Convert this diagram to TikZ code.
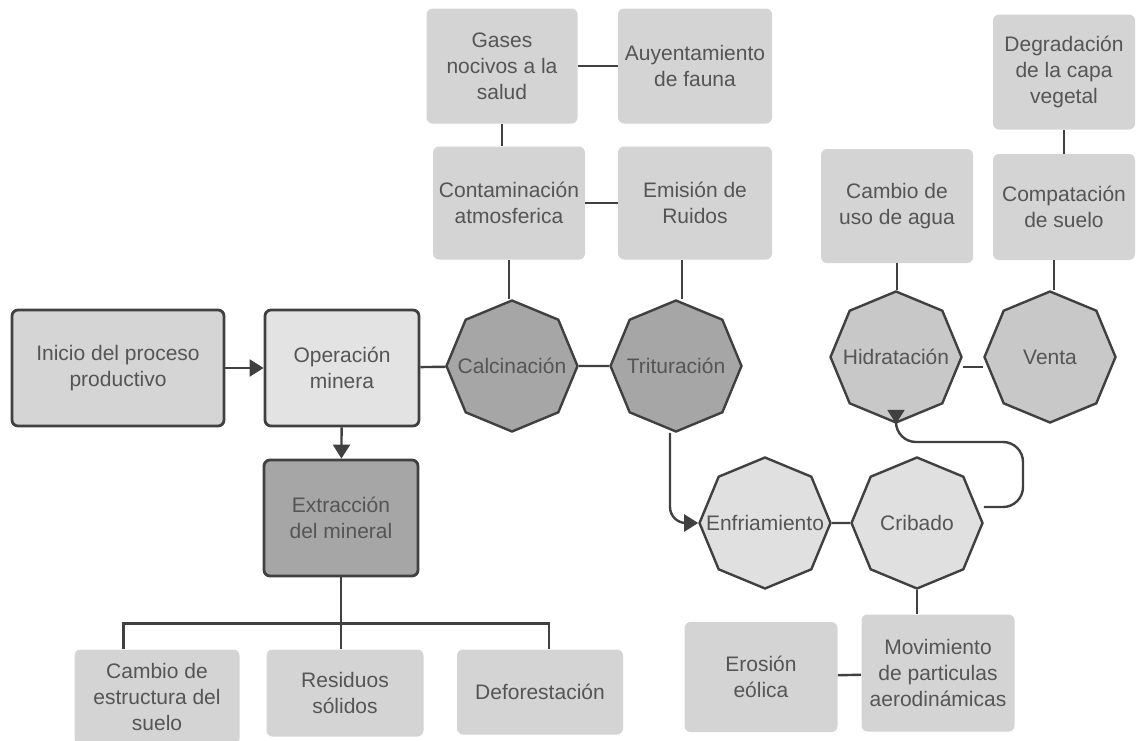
\documentclass[tikz,border=0pt]{standalone}
\usepackage{fontspec}
\setmainfont{Liberation Sans}
\usetikzlibrary{positioning, arrows.meta, shapes.geometric}

\definecolor{txtgray}{HTML}{555555}
\definecolor{edgegray}{HTML}{404040}
\definecolor{fxlight}{HTML}{E3E3E3}
\definecolor{fxmid}{HTML}{D5D5D5}
\definecolor{fxdark}{HTML}{A6A6A6}
\definecolor{fxoct}{HTML}{C8C8C8}
\definecolor{fxpale}{HTML}{E0E0E0}
\definecolor{fximpact}{HTML}{D4D4D4}

\begin{document}
\begin{tikzpicture}[
  x=0.5pt, y=-0.5pt,
  >={Triangle[length=7pt, width=8.5pt]},
  every node/.style={font=\fontsize{10.5}{13}\selectfont, text=txtgray},
  process/.style={
    draw=edgegray, line width=1.4pt, rounded corners=3pt,
    align=center, inner sep=2pt
  },
  impact/.style={
    fill=fximpact, rounded corners=3pt, align=center, inner sep=2pt
  },
  % negative inner xsep keeps the text from growing the octagon
  stage/.style={
    regular polygon, regular polygon sides=8, shape border rotate=22.5,
    draw=edgegray, line width=1.2pt, minimum size=65.5pt,
    inner xsep=-15pt, inner ysep=0pt
  },
  link/.style={edgegray, line width=1.2pt},
  arr/.style={->, edgegray, line width=1.2pt}
]
\useasboundingbox (0,0) rectangle (1136,740);

% Main process boxes
\node[process, fill=fxmid, minimum width=106pt, minimum height=58pt] (inicio) at (118,368)
  {Inicio del proceso\\productivo};
\node[process, fill=fxlight, minimum width=77pt, minimum height=58pt] (opera) at (342,368)
  {Operación\\minera};
\node[process, fill=fxdark, minimum width=77pt, minimum height=58pt] (extra) at (341,518)
  {Extracción\\del mineral};

% Process stages (octagons)
\node[stage, fill=fxdark] (calc) at (512,366) {Calcinación};
\node[stage, fill=fxdark] (trit) at (676,366) {Trituración};
\node[stage, fill=fxpale] (enfr) at (765,523) {Enfriamiento};
\node[stage, fill=fxpale] (crib) at (917,523) {Cribado};
\node[stage, fill=fxoct] (hidra) at (896,357) {Hidratación};
\node[stage, fill=fxoct] (venta) at (1050,357) {Venta};

% Impacts: top middle
\node[impact, minimum width=75.5pt, minimum height=57.5pt] (gases) at (502,66)
  {Gases\\nocivos a la\\salud};
\node[impact, minimum width=77pt, minimum height=57.5pt] (fauna) at (695,66)
  {Auyentamiento\\de fauna};
\node[impact, minimum width=76pt, minimum height=56.5pt] (contam) at (509,203)
  {Contaminación\\atmosferica};
\node[impact, minimum width=77pt, minimum height=56.5pt] (ruido) at (695,203)
  {Emisión de\\Ruidos};

% Impacts: top right
\node[impact, minimum width=76pt, minimum height=57pt] (agua) at (897,206)
  {Cambio de\\uso de agua};
\node[impact, minimum width=71pt, minimum height=53pt] (compac) at (1064,207)
  {Compatación\\de suelo};
\node[impact, minimum width=71pt, minimum height=57.5pt] (degrad) at (1064,72)
  {Degradación\\de la capa\\vegetal};

% Impacts: bottom
\node[impact, minimum width=82.5pt, minimum height=47.5pt] (suelo) at (157,697)
  {Cambio de\\estructura del\\suelo};
\node[impact, minimum width=78.5pt, minimum height=43.5pt] (resid) at (345,693)
  {Residuos\\sólidos};
\node[impact, minimum width=83pt, minimum height=42.5pt] (defor) at (540,692)
  {Deforestación};
\node[impact, minimum width=76.5pt, minimum height=55pt] (erosion) at (761,677)
  {Erosión\\eólica};
\node[impact, minimum width=76.5pt, minimum height=58.5pt] (movim) at (938,673)
  {Movimiento\\de particulas\\aerodinámicas};

% Main flow
\draw[arr] (inicio) -- (opera);
\draw[arr] (opera) -- (extra);
\draw[link] (opera) -- (calc);
\draw[link] (calc) -- (trit);
\draw[arr, rounded corners=8pt] ([xshift=-3pt]trit.south) |- (enfr.west);
\draw[link] (enfr) -- (crib);
\coordinate (loop) at (1023,442);
\draw[arr, rounded corners=10pt] ([yshift=8pt]crib.east) -| (loop) -| (hidra.south);
\draw[link] ([yshift=-5pt]hidra.east) -- ([yshift=-5pt]venta.west);

% Impacts of the stages
\draw[link] (gases) -- (fauna);
\draw[link] (gases.south) -- (gases.south |- contam.north);
\draw[link] (contam) -- (ruido);
\draw[link] (contam.south) -- (contam.south |- calc.north);
\draw[link] ([xshift=3pt]trit.north) -- ([xshift=3pt]trit.north |- ruido.south);
\draw[link] (agua.south) -- (agua.south |- hidra.north);
\draw[link] (degrad) -- (compac);
\draw[link] ([xshift=2pt]venta.north) -- ([xshift=2pt]venta.north |- compac.south);
\draw[link] (crib.south) -- (crib.south |- movim.north);
\draw[link] (erosion) -- (movim);

% Extraction tree
\path (extra.south) ++(0,46) coordinate (split);
\draw[link] (extra.south) -- (split);
\draw[link] ([xshift=-16.75pt]suelo.north) |- (split) -| ([xshift=4.5pt]defor.north);
\draw[link] (split) -- (split |- resid.north);
\end{tikzpicture}
\end{document}
